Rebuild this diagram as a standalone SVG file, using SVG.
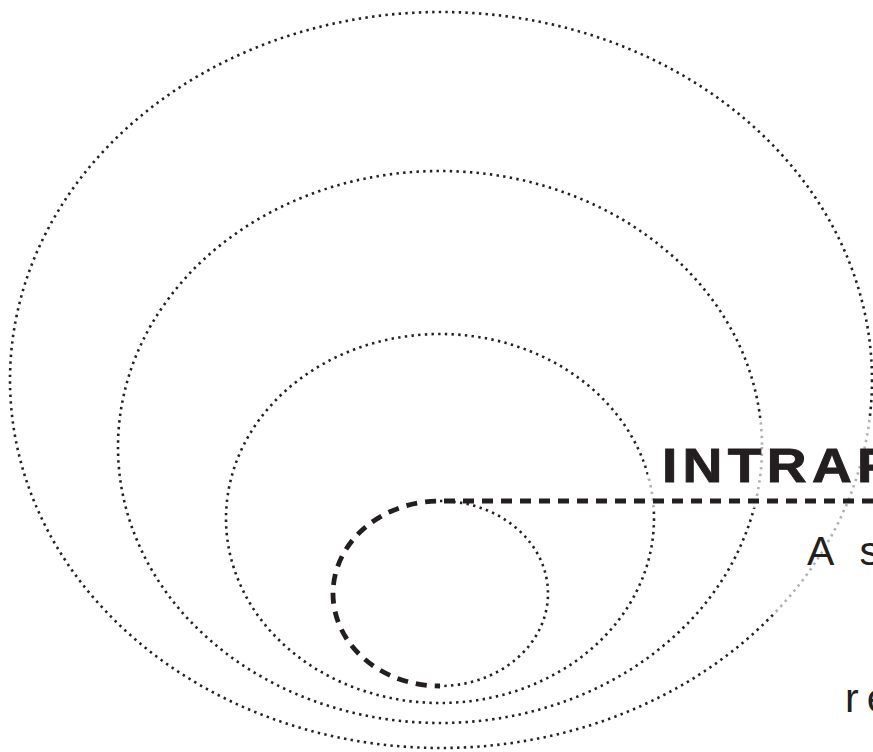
<svg xmlns="http://www.w3.org/2000/svg" width="873" height="752" viewBox="0 0 873 752">
<style>
.dot{fill:none;stroke:#222;stroke-width:2.6;stroke-dasharray:2.4 4.3}
.dash{fill:none;stroke:#231f20;stroke-width:4.8;stroke-dasharray:11 8}
.veil{fill:#fff;opacity:0.65}
.title{font-family:"Liberation Sans",Arial,sans-serif;font-weight:bold;font-size:48px;letter-spacing:4.6px;fill:#231f20;stroke:#231f20;stroke-width:0.9}
.body{font-family:"Liberation Sans",Arial,sans-serif;font-size:41px;letter-spacing:8px;fill:#231f20}
</style>
<rect width="873" height="752" fill="#fff"/>
<g id="ring-outer"><ellipse class="dot" cx="441" cy="380" rx="431" ry="368"/></g>
<g id="ring-2"><ellipse class="dot" cx="440" cy="447" rx="322" ry="276"/></g>
<g id="ring-3"><ellipse class="dot" cx="440" cy="518.5" rx="214" ry="184.5"/></g>
<g id="ring-inner"><path class="dot" d="M440,501 A108,92.5 0 0 1 440,686"/></g>
<rect class="veil" x="648" y="418" width="225" height="90"/>
<rect class="veil" x="765" y="508" width="108" height="104"/>
<g id="connectors"><path class="dash" d="M873,501 H440 A107,92.5 0 0 0 440,686"/></g>
<g id="label-title"><text class="title" transform="translate(662,482) scale(1.15,1)">INTRAP</text></g>
<g id="label-desc"><text class="body" x="807" y="565">A s</text><text class="body" x="845" y="712">re</text></g>
</svg>
